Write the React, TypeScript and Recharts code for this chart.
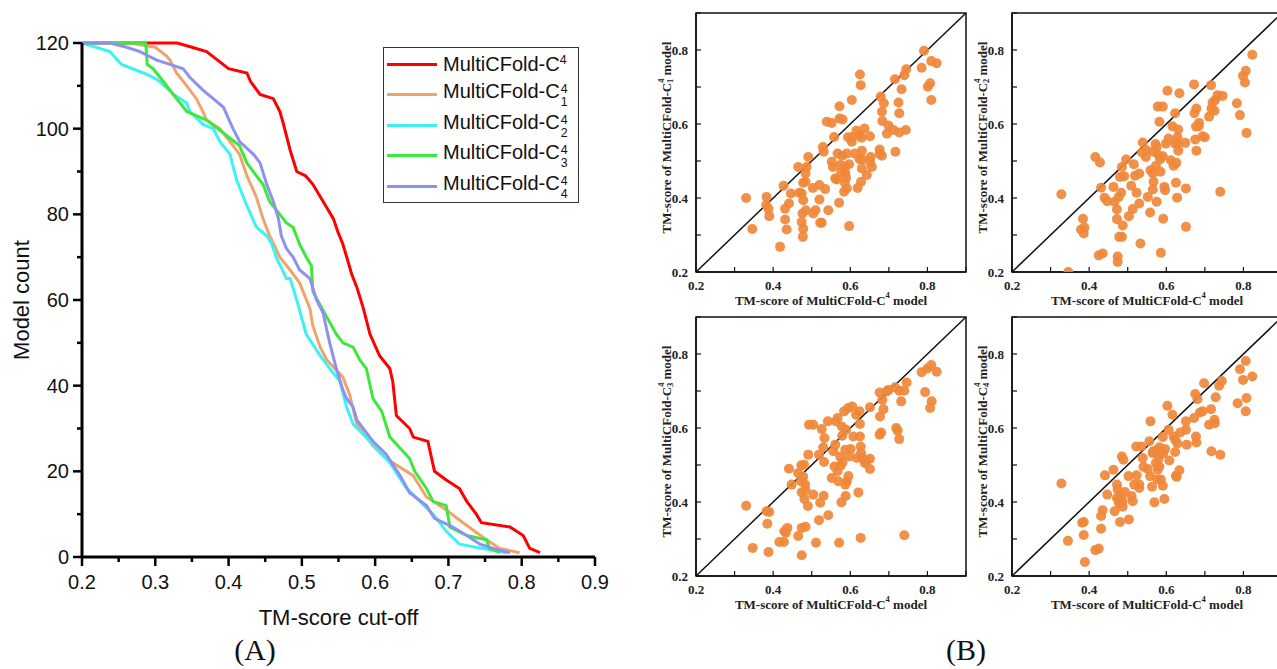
import React from 'react';
import {
  LineChart,
  Line,
  ScatterChart,
  Scatter,
  XAxis,
  YAxis,
  ReferenceLine,
  ReferenceArea,
  Legend,
} from 'recharts';

const SANS = 'Arial, "Liberation Sans", sans-serif';
const SERIF = '"Times New Roman", "Liberation Serif", serif';

// ---- panel A: model count above each TM-score cut-off ----
const cutoffTicks = [0.2, 0.25, 0.3, 0.35, 0.4, 0.45, 0.5, 0.55, 0.6, 0.65, 0.7, 0.75, 0.8, 0.85, 0.9];
const countTicks = [0, 10, 20, 30, 40, 50, 60, 70, 80, 90, 100, 110, 120];

const curveC4: [number, number][] = [
  [0.2, 120], [0.33, 120], [0.35, 119], [0.37, 118], [0.385, 116], [0.4, 114], [0.425, 113], [0.43, 111],
  [0.443, 108], [0.461, 107], [0.47, 104], [0.475, 101], [0.484, 95], [0.493, 90], [0.505, 89], [0.515, 87],
  [0.529, 83], [0.543, 79], [0.549, 76], [0.556, 73], [0.563, 69], [0.568, 66], [0.575, 63], [0.584, 58],
  [0.593, 52], [0.606, 47], [0.62, 44], [0.624, 41], [0.629, 33], [0.647, 30], [0.652, 28], [0.672, 27],
  [0.681, 20], [0.697, 18], [0.715, 16], [0.725, 13], [0.738, 10], [0.745, 8], [0.784, 7], [0.802, 5],
  [0.811, 2], [0.825, 1],
];
const curveC41: [number, number][] = [
  [0.2, 120], [0.265, 120], [0.3, 119], [0.315, 117], [0.32, 116], [0.329, 113], [0.343, 110], [0.356, 107],
  [0.365, 104], [0.37, 102], [0.388, 100], [0.402, 97], [0.415, 94], [0.425, 89], [0.438, 84], [0.447, 79],
  [0.456, 75], [0.47, 70], [0.484, 67], [0.497, 64], [0.511, 58], [0.515, 54], [0.525, 49], [0.534, 46],
  [0.556, 42], [0.565, 38], [0.575, 31], [0.597, 26], [0.615, 23], [0.652, 19], [0.67, 14], [0.697, 11],
  [0.72, 8], [0.752, 4], [0.77, 2], [0.797, 1],
];
const curveC42: [number, number][] = [
  [0.2, 120], [0.238, 118], [0.254, 115], [0.284, 113], [0.297, 112], [0.306, 111], [0.325, 108], [0.343, 106],
  [0.347, 104], [0.365, 101], [0.379, 100], [0.388, 97], [0.402, 94], [0.411, 88], [0.425, 82], [0.438, 77],
  [0.452, 75], [0.459, 73], [0.465, 70], [0.479, 65], [0.484, 65], [0.493, 60], [0.506, 52], [0.525, 47],
  [0.538, 44], [0.552, 41], [0.561, 35], [0.57, 31], [0.593, 27], [0.609, 24], [0.62, 22], [0.643, 16],
  [0.661, 13], [0.679, 10], [0.697, 6], [0.715, 3], [0.747, 2], [0.779, 1],
];
const curveC43: [number, number][] = [
  [0.2, 120], [0.287, 120], [0.289, 115], [0.297, 114], [0.311, 111], [0.329, 107], [0.343, 104], [0.37, 102],
  [0.393, 99], [0.415, 96], [0.425, 92], [0.438, 89], [0.447, 87], [0.456, 83], [0.47, 80], [0.479, 78],
  [0.488, 77], [0.497, 73], [0.506, 70], [0.513, 68], [0.515, 62], [0.534, 56], [0.547, 52], [0.556, 50],
  [0.57, 49], [0.579, 46], [0.588, 44], [0.597, 37], [0.609, 34], [0.62, 28], [0.647, 23], [0.654, 20],
  [0.67, 16], [0.679, 13], [0.697, 12], [0.702, 7], [0.725, 5], [0.752, 4], [0.756, 2], [0.77, 1],
];
const curveC44: [number, number][] = [
  [0.2, 120], [0.238, 120], [0.261, 119], [0.279, 118], [0.302, 116], [0.32, 115], [0.338, 114], [0.347, 112],
  [0.365, 109], [0.379, 107], [0.393, 105], [0.406, 100], [0.415, 97], [0.434, 94], [0.443, 92], [0.452, 87],
  [0.461, 83], [0.468, 79], [0.472, 75], [0.479, 72], [0.488, 70], [0.497, 67], [0.511, 65], [0.52, 60],
  [0.529, 57], [0.534, 53], [0.538, 50], [0.547, 44], [0.556, 39], [0.561, 37], [0.57, 35], [0.575, 32],
  [0.597, 27], [0.615, 24], [0.634, 19], [0.647, 15], [0.67, 12], [0.681, 9], [0.706, 7], [0.725, 5],
  [0.743, 3], [0.761, 2], [0.784, 1],
];

const curveSeries = [
  { id: 'c4', sub: '', color: '#FF0000', points: curveC4 },
  { id: 'c41', sub: '1', color: '#F0A46C', points: curveC41 },
  { id: 'c42', sub: '2', color: '#3CF2F2', points: curveC42 },
  { id: 'c43', sub: '3', color: '#3DE83D', points: curveC43 },
  { id: 'c44', sub: '4', color: '#8C92EE', points: curveC44 },
];

// ---- panel B: TM-score of MultiCFold-C4 (x) against each variant (y) ----
const scoreTicks = [0.2, 0.3, 0.4, 0.5, 0.6, 0.7, 0.8, 0.9];

const pointsC41: [number, number][] = [
  [0.33, 0.4], [0.346, 0.316], [0.383, 0.403], [0.382, 0.381], [0.388, 0.371], [0.39, 0.351], [0.418, 0.268],
  [0.427, 0.433], [0.431, 0.371], [0.431, 0.342], [0.435, 0.315], [0.441, 0.385], [0.446, 0.412], [0.465, 0.484],
  [0.468, 0.414], [0.476, 0.358], [0.478, 0.441], [0.484, 0.466], [0.487, 0.484], [0.491, 0.511], [0.484, 0.444],
  [0.474, 0.412], [0.478, 0.394], [0.474, 0.335], [0.478, 0.317], [0.477, 0.295], [0.485, 0.367], [0.503, 0.427],
  [0.504, 0.358], [0.51, 0.367], [0.52, 0.435], [0.52, 0.396], [0.522, 0.333], [0.526, 0.333], [0.529, 0.538],
  [0.531, 0.525], [0.535, 0.424], [0.539, 0.606], [0.552, 0.603], [0.543, 0.367], [0.552, 0.498], [0.555, 0.484],
  [0.558, 0.565], [0.561, 0.453], [0.565, 0.45], [0.567, 0.52], [0.572, 0.648], [0.572, 0.615], [0.571, 0.387],
  [0.574, 0.489], [0.576, 0.468], [0.579, 0.514], [0.58, 0.612], [0.584, 0.417], [0.586, 0.441], [0.586, 0.486],
  [0.587, 0.468], [0.589, 0.455], [0.591, 0.52], [0.591, 0.426], [0.594, 0.564], [0.597, 0.491], [0.597, 0.324],
  [0.604, 0.552], [0.604, 0.665], [0.605, 0.565], [0.612, 0.52], [0.616, 0.582], [0.619, 0.427], [0.624, 0.505],
  [0.625, 0.734], [0.627, 0.705], [0.625, 0.57], [0.628, 0.444], [0.629, 0.563], [0.63, 0.48], [0.63, 0.528],
  [0.631, 0.504], [0.637, 0.588], [0.643, 0.462], [0.651, 0.498], [0.651, 0.567], [0.653, 0.511], [0.656, 0.484],
  [0.676, 0.519], [0.676, 0.531], [0.679, 0.674], [0.682, 0.633], [0.683, 0.608], [0.682, 0.514], [0.687, 0.656],
  [0.695, 0.574], [0.699, 0.596], [0.712, 0.584], [0.717, 0.525], [0.716, 0.721], [0.725, 0.658], [0.727, 0.629],
  [0.727, 0.577], [0.733, 0.694], [0.74, 0.732], [0.744, 0.584], [0.745, 0.748], [0.785, 0.752], [0.791, 0.798],
  [0.801, 0.701], [0.807, 0.71], [0.81, 0.665], [0.81, 0.77], [0.824, 0.764],
];
const pointsC42: [number, number][] = [
  [0.328, 0.41], [0.346, 0.2], [0.384, 0.344], [0.379, 0.315], [0.388, 0.32], [0.386, 0.304], [0.416, 0.511],
  [0.428, 0.496], [0.431, 0.428], [0.425, 0.245], [0.435, 0.25], [0.44, 0.401], [0.447, 0.391], [0.463, 0.43],
  [0.466, 0.39], [0.472, 0.369], [0.472, 0.343], [0.474, 0.242], [0.474, 0.227], [0.477, 0.403], [0.483, 0.414],
  [0.485, 0.484], [0.48, 0.457], [0.491, 0.459], [0.478, 0.295], [0.485, 0.295], [0.487, 0.326], [0.496, 0.504],
  [0.503, 0.351], [0.509, 0.433], [0.513, 0.37], [0.516, 0.491], [0.519, 0.46], [0.523, 0.414], [0.53, 0.466],
  [0.53, 0.385], [0.533, 0.277], [0.539, 0.55], [0.537, 0.523], [0.547, 0.511], [0.549, 0.529], [0.552, 0.403],
  [0.558, 0.361], [0.559, 0.475], [0.565, 0.466], [0.567, 0.525], [0.565, 0.423], [0.567, 0.444], [0.572, 0.546],
  [0.573, 0.487], [0.575, 0.538], [0.575, 0.39], [0.578, 0.647], [0.582, 0.606], [0.58, 0.516], [0.584, 0.504],
  [0.585, 0.471], [0.586, 0.252], [0.591, 0.647], [0.591, 0.513], [0.592, 0.344], [0.595, 0.43], [0.597, 0.421],
  [0.599, 0.547], [0.603, 0.69], [0.606, 0.561], [0.612, 0.502], [0.616, 0.594], [0.619, 0.487], [0.623, 0.629],
  [0.623, 0.547], [0.625, 0.441], [0.628, 0.401], [0.626, 0.495], [0.629, 0.564], [0.631, 0.585], [0.634, 0.683],
  [0.629, 0.547], [0.631, 0.528], [0.649, 0.549], [0.651, 0.426], [0.651, 0.322], [0.672, 0.707], [0.673, 0.629],
  [0.675, 0.558], [0.677, 0.593], [0.678, 0.528], [0.678, 0.642], [0.684, 0.594], [0.685, 0.603], [0.694, 0.567],
  [0.7, 0.564], [0.711, 0.62], [0.716, 0.705], [0.717, 0.642], [0.72, 0.658], [0.725, 0.636], [0.727, 0.665],
  [0.733, 0.678], [0.746, 0.676], [0.74, 0.417], [0.783, 0.656], [0.791, 0.624], [0.799, 0.73], [0.806, 0.744],
  [0.804, 0.712], [0.808, 0.576], [0.823, 0.787],
];
const pointsC43: [number, number][] = [
  [0.33, 0.39], [0.347, 0.276], [0.383, 0.375], [0.39, 0.373], [0.385, 0.341], [0.388, 0.265], [0.416, 0.292],
  [0.428, 0.292], [0.429, 0.321], [0.433, 0.317], [0.437, 0.33], [0.441, 0.49], [0.448, 0.447], [0.465, 0.478],
  [0.465, 0.308], [0.473, 0.499], [0.472, 0.456], [0.474, 0.426], [0.478, 0.468], [0.48, 0.501], [0.483, 0.447],
  [0.484, 0.432], [0.481, 0.408], [0.474, 0.33], [0.474, 0.256], [0.484, 0.333], [0.49, 0.389], [0.491, 0.528],
  [0.493, 0.609], [0.504, 0.609], [0.504, 0.42], [0.511, 0.29], [0.519, 0.528], [0.522, 0.398], [0.519, 0.351],
  [0.526, 0.597], [0.531, 0.417], [0.532, 0.508], [0.533, 0.573], [0.53, 0.548], [0.542, 0.618], [0.543, 0.364],
  [0.552, 0.465], [0.556, 0.537], [0.559, 0.496], [0.561, 0.555], [0.563, 0.618], [0.567, 0.627], [0.567, 0.483],
  [0.569, 0.456], [0.571, 0.29], [0.574, 0.522], [0.575, 0.498], [0.577, 0.399], [0.578, 0.604], [0.579, 0.579],
  [0.58, 0.507], [0.584, 0.645], [0.587, 0.541], [0.589, 0.595], [0.587, 0.447], [0.588, 0.416], [0.591, 0.456],
  [0.595, 0.47], [0.595, 0.654], [0.598, 0.523], [0.601, 0.543], [0.605, 0.658], [0.608, 0.577], [0.615, 0.636],
  [0.617, 0.519], [0.621, 0.426], [0.624, 0.645], [0.625, 0.577], [0.625, 0.611], [0.627, 0.55], [0.628, 0.532],
  [0.631, 0.519], [0.627, 0.303], [0.638, 0.505], [0.641, 0.51], [0.651, 0.517], [0.651, 0.489], [0.651, 0.656],
  [0.676, 0.696], [0.676, 0.582], [0.677, 0.631], [0.68, 0.588], [0.683, 0.676], [0.686, 0.651], [0.695, 0.699],
  [0.699, 0.703], [0.716, 0.71], [0.719, 0.6], [0.723, 0.593], [0.727, 0.57], [0.727, 0.701], [0.732, 0.672],
  [0.74, 0.701], [0.74, 0.31], [0.746, 0.723], [0.785, 0.751], [0.794, 0.697], [0.8, 0.761], [0.81, 0.77],
  [0.807, 0.654], [0.811, 0.672], [0.824, 0.752],
];
const pointsC44: [number, number][] = [
  [0.328, 0.45], [0.345, 0.295], [0.382, 0.344], [0.386, 0.346], [0.386, 0.311], [0.389, 0.238], [0.416, 0.27],
  [0.425, 0.274], [0.431, 0.328], [0.431, 0.362], [0.435, 0.378], [0.441, 0.472], [0.447, 0.42], [0.463, 0.487],
  [0.466, 0.375], [0.472, 0.447], [0.474, 0.434], [0.472, 0.411], [0.477, 0.402], [0.478, 0.396], [0.48, 0.346],
  [0.483, 0.42], [0.485, 0.523], [0.489, 0.514], [0.487, 0.387], [0.487, 0.402], [0.493, 0.427], [0.502, 0.47],
  [0.503, 0.353], [0.51, 0.416], [0.513, 0.402], [0.517, 0.447], [0.522, 0.55], [0.523, 0.472], [0.53, 0.447],
  [0.53, 0.438], [0.535, 0.55], [0.539, 0.519], [0.541, 0.495], [0.552, 0.489], [0.556, 0.564], [0.559, 0.618],
  [0.558, 0.47], [0.563, 0.441], [0.565, 0.532], [0.566, 0.537], [0.569, 0.399], [0.573, 0.505], [0.575, 0.54],
  [0.577, 0.461], [0.578, 0.487], [0.58, 0.516], [0.582, 0.548], [0.582, 0.496], [0.585, 0.531], [0.586, 0.461],
  [0.591, 0.576], [0.591, 0.444], [0.592, 0.531], [0.595, 0.408], [0.597, 0.543], [0.603, 0.66], [0.606, 0.595],
  [0.608, 0.512], [0.616, 0.636], [0.619, 0.577], [0.623, 0.568], [0.623, 0.535], [0.625, 0.471], [0.627, 0.468],
  [0.629, 0.558], [0.634, 0.486], [0.636, 0.588], [0.651, 0.618], [0.651, 0.595], [0.653, 0.555], [0.672, 0.627],
  [0.675, 0.692], [0.677, 0.577], [0.678, 0.561], [0.681, 0.678], [0.687, 0.642], [0.694, 0.645], [0.698, 0.721],
  [0.711, 0.609], [0.716, 0.651], [0.717, 0.537], [0.725, 0.622], [0.726, 0.613], [0.728, 0.683], [0.737, 0.714],
  [0.74, 0.528], [0.744, 0.727], [0.785, 0.667], [0.791, 0.759], [0.799, 0.73], [0.806, 0.781], [0.808, 0.681],
  [0.806, 0.645], [0.823, 0.739],
];

const toXY = (pts: [number, number][]) => pts.map(([x, y]) => ({ x, y }));

// stacked superscript 4 / subscript n, HTML version for the legend
function CTag({ sub }: { sub: string }) {
  if (!sub) return <sup style={{ fontSize: '0.62em', verticalAlign: '0.55em', lineHeight: 0 }}>4</sup>;
  return (
    <span
      style={{
        display: 'inline-block',
        fontSize: '0.62em',
        lineHeight: '1.05em',
        verticalAlign: '-0.62em',
        marginLeft: 1,
      }}
    >
      4
      <br />
      {sub}
    </span>
  );
}

const CountTickX = (props: any) => {
  const { x, y, payload } = props;
  const v = payload.value as number;
  const major = Math.abs(v * 10 - Math.round(v * 10)) < 1e-6;
  return (
    <g>
      <line x1={x} y1={y} x2={x} y2={y + (major ? 9 : 5)} stroke="#000" strokeWidth={2.5} />
      {major && (
        <text x={x} y={y + 25} textAnchor="middle" dominantBaseline="central" fontSize={20} fontFamily={SANS} fill="#111">
          {v.toFixed(1)}
        </text>
      )}
    </g>
  );
};

const CountTickY = (props: any) => {
  const { x, y, payload } = props;
  const v = payload.value as number;
  const major = v % 20 === 0;
  return (
    <g>
      <line x1={x} y1={y} x2={x - (major ? 9 : 5)} y2={y} stroke="#000" strokeWidth={2.5} />
      {major && (
        <text x={x - 13} y={y} textAnchor="end" dominantBaseline="central" fontSize={20} fontFamily={SANS} fill="#111">
          {v}
        </text>
      )}
    </g>
  );
};

const ScoreTickX = (props: any) => {
  const { x, y, payload } = props;
  const v = payload.value as number;
  const major = Math.round(v * 10) % 2 === 0 && v < 0.85;
  return (
    <g>
      <line x1={x} y1={y} x2={x} y2={y - 5} stroke="#111" strokeWidth={1.2} />
      {major && (
        <text x={x} y={y + 13} textAnchor="middle" dominantBaseline="central" fontSize={13} fontWeight="bold" fontFamily={SERIF} fill="#222">
          {v.toFixed(1)}
        </text>
      )}
    </g>
  );
};

const ScoreTickY = (props: any) => {
  const { x, y, payload } = props;
  const v = payload.value as number;
  const major = Math.round(v * 10) % 2 === 0 && v < 0.85;
  return (
    <g>
      <line x1={x} y1={y} x2={x + 5} y2={y} stroke="#111" strokeWidth={1.2} />
      {major && (
        <text x={x - 8} y={y} textAnchor="end" dominantBaseline="central" fontSize={13} fontWeight="bold" fontFamily={SERIF} fill="#222">
          {v.toFixed(1)}
        </text>
      )}
    </g>
  );
};

function ScatterPanel({ points, sub, left, top }: { points: [number, number][]; sub: string; left: number; top: number }) {
  const data = toXY(points);
  return (
    <div style={{ position: 'absolute', left, top }}>
      <ScatterChart width={340} height={320} margin={{ top: 13, right: 14, bottom: 18, left: 16 }}>
        <XAxis
          type="number"
          dataKey="x"
          domain={[0.2, 0.9]}
          ticks={scoreTicks}
          interval={0}
          allowDataOverflow
          height={30}
          tickSize={0}
          tickMargin={0}
          tickLine={false}
          tick={ScoreTickX}
          axisLine={{ stroke: '#111', strokeWidth: 1.5 }}
          label={(p: any) => {
            const vb = p.viewBox || { x: 0, y: 0, width: 0, height: 0 };
            return (
              <text x={vb.x + vb.width / 2} y={vb.y + 28} textAnchor="middle" dominantBaseline="central" fontSize={13} fontWeight="bold" fontFamily={SERIF} fill="#222">
                TM-score of MultiCFold-C<tspan fontSize={8.5} dy={-5}>4</tspan>
                <tspan dy={5}> model</tspan>
              </text>
            );
          }}
        />
        <YAxis
          type="number"
          dataKey="y"
          domain={[0.2, 0.9]}
          ticks={scoreTicks}
          interval={0}
          allowDataOverflow
          width={40}
          tickSize={0}
          tickMargin={0}
          tickLine={false}
          tick={ScoreTickY}
          axisLine={{ stroke: '#111', strokeWidth: 1.5 }}
          label={(p: any) => {
            const vb = p.viewBox || { x: 0, y: 0, width: 0, height: 0 };
            const cx = vb.x + vb.width - 30;
            const cy = vb.y + vb.height / 2 - 5;
            return (
              <text x={cx} y={cy} transform={`rotate(-90, ${cx}, ${cy})`} textAnchor="middle" dominantBaseline="central" fontSize={13} fontWeight="bold" fontFamily={SERIF} fill="#222">
                TM-score of MultiCFold-C<tspan fontSize={8.5} dy={-5}>4</tspan>
                <tspan fontSize={8.5} dx={-4.5} dy={9}>{sub}</tspan>
                <tspan dy={-4}> model</tspan>
              </text>
            );
          }}
        />
        <ReferenceArea x1={0.2} x2={0.9} y1={0.2} y2={0.9} fill="none" fillOpacity={0} stroke="#111" strokeWidth={1.5} />
        <Scatter
          data={data}
          isAnimationActive={false}
          shape={(p: any) => <circle cx={p.cx} cy={p.cy} r={5} fill="#F0883A" fillOpacity={0.92} />}
        />
        <ReferenceLine segment={[{ x: 0.2, y: 0.2 }, { x: 0.9, y: 0.9 }]} stroke="#111" strokeWidth={1.5} />
      </ScatterChart>
    </div>
  );
}

function CurveLegend() {
  return (
    <div
      style={{
        width: 196,
        height: 156,
        boxSizing: 'border-box',
        border: '1.5px solid #333',
        background: '#fff',
        fontFamily: SANS,
        fontSize: 20,
        color: '#111',
        paddingTop: 1,
      }}
    >
      {curveSeries.map((s) => (
        <div key={s.id} style={{ display: 'flex', alignItems: 'center', height: 30.5, paddingLeft: 3 }}>
          <span style={{ display: 'inline-block', width: 50, height: 3, background: s.color, marginRight: 6 }} />
          <span style={{ whiteSpace: 'nowrap' }}>
            MultiCFold-C<CTag sub={s.sub} />
          </span>
        </div>
      ))}
    </div>
  );
}

export default function App() {
  return (
    <div style={{ position: 'fixed', left: 0, top: 0, width: 1277, height: 669, overflow: 'hidden', background: '#fff' }}>
      <div style={{ position: 'absolute', left: 0, top: 0 }}>
        <LineChart width={640} height={669} margin={{ top: 43, right: 45, bottom: 62, left: 20 }}>
          <XAxis
            type="number"
            dataKey="x"
            domain={[0.2, 0.9]}
            ticks={cutoffTicks}
            interval={0}
            height={50}
            tickSize={0}
            tickMargin={0}
            tickLine={false}
            tick={CountTickX}
            axisLine={{ stroke: '#000', strokeWidth: 3 }}
            label={(p: any) => {
              const vb = p.viewBox || { x: 0, y: 0, width: 0, height: 0 };
              return (
                <text x={vb.x + vb.width / 2} y={vb.y + 60} textAnchor="middle" dominantBaseline="central" fontSize={22} fontFamily={SANS} fill="#111">
                  TM-score cut-off
                </text>
              );
            }}
          />
          <YAxis
            type="number"
            domain={[0, 120]}
            ticks={countTicks}
            interval={0}
            width={62}
            tickSize={0}
            tickMargin={0}
            tickLine={false}
            tick={CountTickY}
            axisLine={{ stroke: '#000', strokeWidth: 3 }}
            label={(p: any) => {
              const vb = p.viewBox || { x: 0, y: 0, width: 0, height: 0 };
              const cx = vb.x + 1;
              const cy = vb.y + vb.height / 2;
              return (
                <text x={cx} y={cy} transform={`rotate(-90, ${cx}, ${cy})`} textAnchor="middle" dominantBaseline="central" fontSize={22} fontFamily={SANS} fill="#111">
                  Model count
                </text>
              );
            }}
          />
          <Legend
            layout="vertical"
            align="center"
            verticalAlign="middle"
            wrapperStyle={{ left: 383, top: 47, width: 196 }}
            content={() => <CurveLegend />}
          />
          {curveSeries.map((s) => (
            <Line
              key={s.id}
              data={toXY(s.points)}
              dataKey="y"
              name={s.id}
              type="linear"
              stroke={s.color}
              strokeWidth={3}
              dot={false}
              activeDot={false}
              isAnimationActive={false}
            />
          ))}
        </LineChart>
      </div>

      <ScatterPanel points={pointsC41} sub="1" left={640} top={0} />
      <ScatterPanel points={pointsC42} sub="2" left={956} top={0} />
      <ScatterPanel points={pointsC43} sub="3" left={640} top={304} />
      <ScatterPanel points={pointsC44} sub="4" left={956} top={304} />

      <div style={{ position: 'absolute', left: 255, top: 650, transform: 'translate(-50%, -50%)', fontFamily: SERIF, fontSize: 30, color: '#111' }}>
        (A)
      </div>
      <div style={{ position: 'absolute', left: 966, top: 650, transform: 'translate(-50%, -50%)', fontFamily: SERIF, fontSize: 30, color: '#111' }}>
        (B)
      </div>
    </div>
  );
}
